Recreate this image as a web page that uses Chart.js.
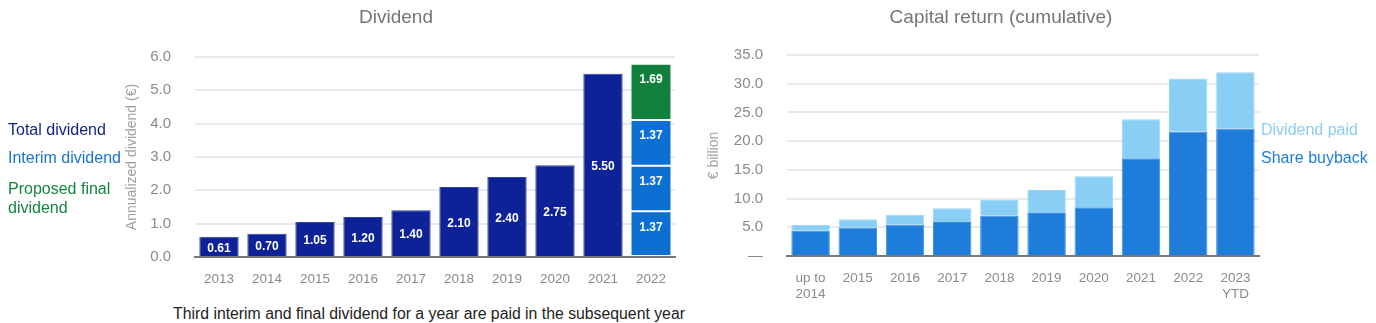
<!DOCTYPE html>
<html>
<head>
<meta charset="utf-8">
<script src="https://cdn.jsdelivr.net/npm/chart.js@4.4.1/dist/chart.umd.min.js"></script>
<style>
  html, body { margin:0; padding:0; background:#fff; }
  body { width:1376px; height:323px; position:relative; overflow:hidden; font-family:'Liberation Sans', Arial, sans-serif; }
  .box { position:absolute; }
  .t { position:absolute; white-space:nowrap; line-height:1; }
</style>
</head>
<body>
<div class="box" style="left:0;top:0;width:690px;height:300px;"><canvas id="c1"></canvas></div>
<div class="box" style="left:690px;top:0;width:686px;height:300px;"><canvas id="c2"></canvas></div>

<div class="t" style="left:296px;width:200px;text-align:center;top:7px;font-size:19px;color:#757575;">Dividend</div>
<div class="t" style="left:851px;width:300px;text-align:center;top:7px;font-size:19px;color:#757575;">Capital return (cumulative)</div>

<div class="t" style="left:8px;top:122px;font-size:16px;color:#0f1f8a;">Total dividend</div>
<div class="t" style="left:8px;top:150px;font-size:16px;color:#1a72d2;">Interim dividend</div>
<div class="t" style="left:8px;top:181px;font-size:16px;color:#14853e;">Proposed final</div>
<div class="t" style="left:8px;top:200px;font-size:16px;color:#14853e;">dividend</div>

<div class="t" style="left:1261px;top:122px;font-size:16px;color:#88cef5;">Dividend paid</div>
<div class="t" style="left:1261px;top:150px;font-size:16px;color:#1e7ddb;">Share buyback</div>

<div class="t" style="left:173px;top:306px;font-size:15.8px;color:#222;">Third interim and final dividend for a year are paid in the subsequent year</div>

<script>
// ---- Data: Dividend chart ----
const dividendYears = ['2013','2014','2015','2016','2017','2018','2019','2020','2021','2022'];
const totalDividend = [0.61, 0.70, 1.05, 1.20, 1.40, 2.10, 2.40, 2.75, 5.50, null];
const interimDividend1 = [null, null, null, null, null, null, null, null, null, 1.37];
const interimDividend2 = [null, null, null, null, null, null, null, null, null, 1.37];
const interimDividend3 = [null, null, null, null, null, null, null, null, null, 1.37];
const proposedFinal = [null, null, null, null, null, null, null, null, null, 1.69];
const dividendTickMax = 6;
const dividendTickStep = 1;

// ---- Data: Capital return chart ----
const capitalCategories = [['up to','2014'],'2015','2016','2017','2018','2019','2020','2021','2022',['2023','YTD']];
const shareBuyback = [4.4, 4.9, 5.5, 5.9, 7.0, 7.5, 8.5, 17.0, 21.7, 22.2];
const dividendPaid = [1.0, 1.5, 1.7, 2.4, 2.8, 4.0, 5.4, 6.8, 9.2, 9.8];
const capitalTickMax = 35;
const capitalTickStep = 5;

Chart.defaults.font.family = "'Liberation Sans', Arial, sans-serif";
Chart.defaults.animation = false;

const gridColor = ctx => (ctx.tick && ctx.tick.value === 0) ? 'rgba(0,0,0,0)' : '#e9e9e9';

const barLabels = {
  id: 'barLabels',
  afterDatasetsDraw(chart) {
    const ctx = chart.ctx;
    ctx.save();
    ctx.fillStyle = '#ffffff';
    ctx.font = "bold 12px 'Liberation Sans', Arial, sans-serif";
    ctx.textAlign = 'center';
    ctx.textBaseline = 'middle';
    chart.data.datasets.forEach((ds, di) => {
      const meta = chart.getDatasetMeta(di);
      meta.data.forEach((el, i) => {
        const v = ds.data[i];
        if (v === null || v === undefined) return;
        const y = di === 0 ? (el.y + el.base) / 2 + 2 : el.y + 16;
        ctx.fillText(v.toFixed(2), el.x, y);
      });
    });
    ctx.restore();
  }
};

const segBorder = { top: 1, bottom: 1, left: 0, right: 0 };

new Chart(document.getElementById('c1'), {
  type: 'bar',
  data: {
    labels: dividendYears,
    datasets: [
      { label: 'Total dividend', data: totalDividend, backgroundColor: '#0c2296', borderColor: '#2f45a8', borderWidth: 1 },
      { label: 'Interim dividend', data: interimDividend1, backgroundColor: '#0b6fd4', borderColor: 'rgba(255,255,255,0.9)', borderWidth: segBorder, borderSkipped: false },
      { label: 'Interim dividend', data: interimDividend2, backgroundColor: '#0b6fd4', borderColor: 'rgba(255,255,255,0.9)', borderWidth: segBorder, borderSkipped: false },
      { label: 'Interim dividend', data: interimDividend3, backgroundColor: '#0b6fd4', borderColor: 'rgba(255,255,255,0.9)', borderWidth: segBorder, borderSkipped: false },
      { label: 'Proposed final dividend', data: proposedFinal, backgroundColor: '#11803c', borderColor: 'rgba(255,255,255,0.9)', borderWidth: segBorder, borderSkipped: false }
    ]
  },
  options: {
    responsive: true,
    maintainAspectRatio: false,
    layout: { padding: { left: 120, right: 15, top: 57, bottom: 0 } },
    datasets: { bar: { barPercentage: 0.82, categoryPercentage: 1 } },
    plugins: { legend: { display: false }, tooltip: { enabled: false } },
    scales: {
      x: {
        stacked: true,
        z: 1,
        grid: { color: 'rgba(0,0,0,0)', drawTicks: false },
        border: { display: true, color: '#777777', width: 2 },
        ticks: { color: '#8a8a8a', font: { size: 13.5 }, padding: 14, maxRotation: 0 },
        afterFit: s => { s.height = 43; }
      },
      y: {
        stacked: true,
        min: 0,
        max: dividendTickMax,
        grid: { color: gridColor, lineWidth: 2, drawTicks: false },
        border: { display: false },
        ticks: { stepSize: dividendTickStep, color: '#8a8a8a', font: { size: 15 }, padding: 24, callback: v => Number(v).toFixed(1) },
        title: { display: true, text: 'Annualized dividend (€)', color: '#a0a0a0', font: { size: 14 }, padding: { top: 4, bottom: 0 } },
        afterFit: s => { s.width = 75; }
      }
    }
  },
  plugins: [barLabels]
});

new Chart(document.getElementById('c2'), {
  type: 'bar',
  data: {
    labels: capitalCategories,
    datasets: [
      { label: 'Share buyback', data: shareBuyback, backgroundColor: '#1e7ddb', borderColor: '#3a8fe0', borderWidth: 1 },
      { label: 'Dividend paid', data: dividendPaid, backgroundColor: '#88cef5', borderColor: '#9dd6f6', borderWidth: 1 }
    ]
  },
  options: {
    responsive: true,
    maintainAspectRatio: false,
    layout: { padding: { left: 12, right: 117, top: 55, bottom: 0 } },
    datasets: { bar: { barPercentage: 0.815, categoryPercentage: 1 } },
    plugins: { legend: { display: false }, tooltip: { enabled: false } },
    scales: {
      x: {
        stacked: true,
        z: 1,
        grid: { color: 'rgba(0,0,0,0)', drawTicks: false },
        border: { display: true, color: '#777777', width: 2 },
        ticks: { color: '#8a8a8a', font: { size: 13.5, lineHeight: 1.2 }, padding: 14, maxRotation: 0 },
        afterFit: s => { s.height = 44; }
      },
      y: {
        stacked: true,
        min: 0,
        max: capitalTickMax,
        grid: { color: gridColor, lineWidth: 2, drawTicks: false },
        border: { display: false },
        ticks: { stepSize: capitalTickStep, color: '#8a8a8a', font: { size: 15 }, padding: 24, callback: v => v === 0 ? '—' : Number(v).toFixed(1) },
        title: { display: true, text: '€ billion', color: '#a0a0a0', font: { size: 14 }, padding: { top: 4, bottom: 0 } },
        afterFit: s => { s.width = 85; }
      }
    }
  }
});
</script>
</body>
</html>
